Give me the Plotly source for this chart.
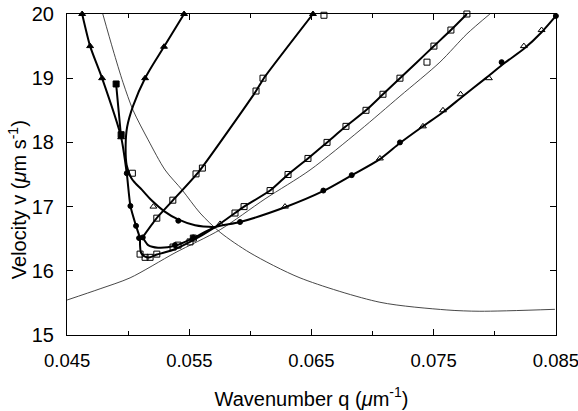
import plotly.graph_objects as go

# ---------------- data (q in 1/um, v in um/s) ----------------
# thin curve, decreasing
thinA_q = [0.04792, 0.04876, 0.04958, 0.05040, 0.05163, 0.05302, 0.05441, 0.05588, 0.05752, 0.05997, 0.06406, 0.07060, 0.07608, 0.07878, 0.08492]
thinA_v = [20.00, 19.44, 18.93, 18.50, 18.04, 17.57, 17.26, 16.90, 16.60, 16.28, 15.89, 15.51, 15.39, 15.37, 15.40]
# thin curve, increasing
thinB_q = [0.04500, 0.04770, 0.05015, 0.05383, 0.05752, 0.06120, 0.06488, 0.06897, 0.07224, 0.07551, 0.07772, 0.07960]
thinB_v = [15.545, 15.72, 15.89, 16.28, 16.64, 17.12, 17.57, 18.19, 18.72, 19.25, 19.69, 20.00]

# branch A, upper part (filled triangles) down to the corner
brA1_q = [0.04623, 0.04688, 0.04786, 0.04942, 0.04988, 0.05018, 0.05064, 0.05097]
brA1_v = [20.00, 19.50, 19.00, 18.08, 17.52, 17.01, 16.70, 16.51]
# branch A, lower part continuing to the right
brA2_q = [0.05097, 0.05122, 0.05163, 0.05244, 0.05383, 0.05531, 0.05711, 0.05915, 0.06283, 0.06594, 0.06831, 0.07060, 0.07224, 0.07404, 0.07576, 0.07739, 0.07919, 0.08083, 0.08246, 0.08385, 0.08500]
brA2_v = [16.51, 16.50, 16.40, 16.36, 16.39, 16.51, 16.68, 16.76, 16.99, 17.24, 17.49, 17.74, 17.99, 18.24, 18.47, 18.72, 18.99, 19.24, 19.47, 19.72, 19.97]
# short branch B
brB_q = [0.04901, 0.04942]
brB_v = [18.91, 18.08]
# U-shaped branch
brU_q = [0.05457, 0.05293, 0.05138, 0.05040, 0.04991, 0.04979, 0.04987, 0.05024, 0.05056, 0.05113, 0.05195, 0.05293, 0.05408, 0.05547, 0.05711]
brU_v = [20.00, 19.49, 19.00, 18.57, 18.24, 17.96, 17.65, 17.45, 17.37, 17.26, 17.09, 16.93, 16.80, 16.71, 16.68]
# lower loop of open squares
brS_q = [0.05097, 0.05097, 0.05105, 0.05138, 0.05179, 0.05228, 0.05359, 0.05506, 0.05711, 0.05874, 0.05948, 0.06161, 0.06308, 0.06471, 0.06627, 0.06782, 0.06946, 0.07085, 0.07224, 0.07363, 0.07502, 0.07641, 0.07772]
brS_v = [16.51, 16.39, 16.28, 16.22, 16.21, 16.25, 16.32, 16.45, 16.68, 16.90, 17.00, 17.25, 17.50, 17.75, 18.00, 18.25, 18.50, 18.75, 19.00, 19.25, 19.50, 19.75, 20.00]
# steep straight branch
brL_q = [0.05113, 0.05228, 0.05367, 0.05580, 0.06046, 0.06110, 0.06512]
brL_v = [16.51, 16.81, 17.10, 17.55, 18.80, 19.00, 20.00]

# markers
sq_q = [0.05097, 0.05138, 0.05179, 0.05234, 0.05367, 0.05408, 0.05506, 0.05533,
        0.05234, 0.05365, 0.05555, 0.05607, 0.06046, 0.06103, 0.06602, 0.05034,
        0.05874, 0.05948, 0.06161, 0.06308, 0.06471, 0.06627, 0.06782, 0.06946,
        0.07085, 0.07224, 0.07445, 0.07502, 0.07641, 0.07772]
sq_v = [16.26, 16.21, 16.21, 16.26, 16.37, 16.40, 16.45, 16.51,
        16.82, 17.10, 17.51, 17.60, 18.80, 19.00, 19.98, 17.52,
        16.90, 17.00, 17.25, 17.50, 17.75, 18.00, 18.25, 18.50,
        18.75, 19.00, 19.25, 19.50, 19.75, 20.00]
otri_q = [0.05206, 0.05752, 0.06283, 0.07060, 0.07412, 0.07576, 0.07720, 0.07952, 0.08238, 0.08383]
otri_v = [17.00, 16.73, 17.00, 17.75, 18.25, 18.50, 18.75, 19.00, 19.50, 19.75]
ftri_q = [0.04623, 0.04688, 0.04786, 0.04942, 0.05457, 0.05293, 0.05138, 0.06512]
ftri_v = [20.00, 19.50, 19.00, 18.08, 20.00, 19.49, 19.00, 20.00]
fcir_q = [0.04988, 0.05018, 0.05064, 0.05089, 0.05119, 0.05383, 0.05533, 0.05410, 0.05915, 0.06597, 0.06829, 0.07224, 0.08056, 0.08500]
fcir_v = [17.52, 17.01, 16.70, 16.51, 16.52, 16.40, 16.52, 16.78, 16.76, 17.25, 17.49, 18.00, 19.25, 19.97]
fsq_q = [0.04901, 0.04942]
fsq_v = [18.91, 18.12]

x_ticks = [0.045, 0.055, 0.065, 0.075, 0.085]
x_tick_text = ["0.045", "0.055", "0.065", "0.075", "0.085"]
y_ticks = [15, 16, 17, 18, 19, 20]

# ---------------- figure ----------------
fig = go.Figure()

def thin(q, v):
    fig.add_trace(go.Scatter(x=q, y=v, mode="lines", line=dict(color="#333", width=0.9, shape="spline", smoothing=0.8), hoverinfo="skip"))

def thick(q, v, smoothing=0.8):
    fig.add_trace(go.Scatter(x=q, y=v, mode="lines", line=dict(color="black", width=2, shape="spline", smoothing=smoothing), hoverinfo="skip"))

thin(thinA_q, thinA_v)
thin(thinB_q, thinB_v)
thick(brA1_q, brA1_v, 0.6)
thick(brA2_q, brA2_v, 0.8)
thick(brB_q, brB_v)
thick(brU_q, brU_v, 1.0)
thick(brS_q, brS_v, 0.7)
thick(brL_q, brL_v, 0.5)

def marks(q, v, symbol, size=6):
    fig.add_trace(go.Scatter(x=q, y=v, mode="markers",
                             marker=dict(symbol=symbol, size=size, color="black",
                                         line=dict(color="black", width=1)),
                             cliponaxis=False, hoverinfo="skip"))

marks(sq_q, sq_v, "square-open", 6)
marks(otri_q, otri_v, "triangle-up-open", 6)
marks(ftri_q, ftri_v, "triangle-up", 6)
marks(fcir_q, fcir_v, "circle", 5)
marks(fsq_q, fsq_v, "square", 6)

font_family = "Liberation Sans, Arial, sans-serif"
fig.update_layout(
    width=578, height=411,
    margin=dict(l=67, r=22, t=14, b=76),
    paper_bgcolor="white", plot_bgcolor="white",
    showlegend=False, hovermode=False,
    font=dict(family=font_family, color="black"),
)
fig.update_xaxes(
    range=[0.04499, 0.08501], tickvals=x_ticks, ticktext=x_tick_text, automargin=False,
    ticks="inside", ticklen=6, tickcolor="black", mirror="ticks",
    showline=True, linecolor="black", linewidth=1, showgrid=False, zeroline=False,
    minor=dict(dtick=0.005, tick0=0.045, ticks="inside", ticklen=4, tickcolor="black"),
    tickfont=dict(size=18.5), ticklabelstandoff=9, ticklabeloverflow="allow",
    title=dict(text="Wavenumber q (<i>μ</i>m<sup>-1</sup>)", font=dict(size=20), standoff=21),
)
fig.update_yaxes(
    range=[15, 20], tickvals=y_ticks, automargin=False,
    ticks="inside", ticklen=6, tickcolor="black", mirror="ticks",
    showline=True, linecolor="black", linewidth=1, showgrid=False, zeroline=False,
    tickfont=dict(size=20), ticklabelstandoff=8, ticklabeloverflow="allow",
)
# y-axis title placed where the reference shows it (slightly below the axis centre)
fig.add_annotation(
    text="Velocity v (<i>μ</i>m s<sup>-1</sup>)", textangle=-90,
    xref="paper", yref="paper", x=0, y=0.42, xanchor="center", yanchor="middle",
    xshift=-50, showarrow=False, font=dict(size=20),
)

fig.write_html("out.html", config={"displayModeBar": False, "staticPlot": True},
               post_script="document.body.style.margin='0';document.body.style.padding='0';")
